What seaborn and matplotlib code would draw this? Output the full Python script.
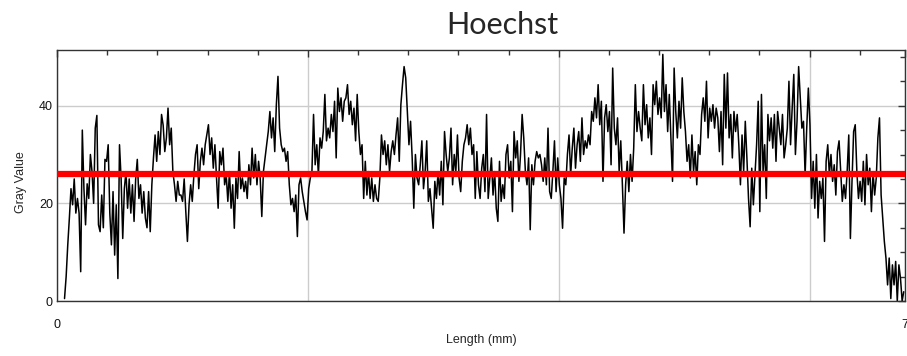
import numpy as np
import matplotlib
matplotlib.use("Agg")
import matplotlib.pyplot as plt
import seaborn as sns
from matplotlib.ticker import MultipleLocator

# gray values, left to right, in 7 chunks
seg1 = [0.5, 5, 11.5, 17, 23, 19.7, 25, 18, 21, 18, 6, 35, 23, 15.6, 24, 21, 30, 26.5, 20, 35.4,
        38, 15.6, 14.2, 21.7, 15, 29, 28.6, 32, 18, 11.5, 22.4, 9.4, 19.7, 4.6, 32, 25, 12.8, 23, 26.5, 19,
        25, 18, 23.8, 16.3, 25, 29, 21, 23.8, 18, 22.4, 17, 15, 22.4, 14.2, 23.8, 29.3, 34, 28.6, 34.7, 30,
        38.2, 36, 30.6, 33.4, 39.5, 32, 35.4, 26.5, 23.8, 20.4, 24.5, 21.7]
seg2 = [21.7, 20.4, 25, 18.3, 12.2, 19.7, 23.8, 20.4, 25.8, 30, 32, 23, 28.6, 31.3, 27.9, 32, 34, 36.1, 30, 33.4,
        27.2, 32, 25.2, 19, 30.6, 27.9, 31.3, 23.8, 25.8, 20.4, 26.5, 19, 23.8, 14.9, 25.2, 21, 30.6, 23, 25.2, 22.4,
        24.5, 21, 27.9, 23.8, 31.3, 25.2, 30, 23.8, 28.6, 25.2, 17.3, 26.5, 29.3, 32, 34.7, 38.8, 33.4, 37.5, 30.6, 40.2,
        46, 35.4, 32, 30.6, 31.3, 28.6, 30.6, 23.8, 19.7, 21, 18.3, 21.7, 13.2, 23.8, 25.2]
seg3 = [22.4, 20.4, 18.3, 16.6, 23, 25.2, 26.5, 38.2, 27.9, 32, 25.8, 33.4, 31.3, 34.7, 42.3, 32.8, 35.4, 33.4, 38.2, 34.7,
        40.9, 29.3, 43.6, 38.8, 41.6, 36.8, 40.9, 41.6, 44.3, 38.2, 40.9, 36.1, 39.5, 32.8, 42.3, 34.7, 30, 32, 21, 28.6,
        21.7, 26.5, 21, 25.2, 20.4, 23.8, 21, 20.4, 25.2, 34, 30, 32.8, 27.9, 32, 26.5, 30.6, 32.8, 30, 34, 37.5,
        28.6, 40.2, 44.3, 48, 45.7, 38.8, 32, 36.8, 29.3, 19, 30, 25.2, 23.8]
seg4 = [27.9, 32.8, 23, 26.5, 32.8, 20.4, 23, 19, 14.9, 24.5, 21, 26.5, 21.7, 28.6, 19.7, 34.7, 30, 26.5, 29.3, 35.4,
        23.8, 30, 26.5, 34, 25.2, 22.4, 28.6, 32, 33.4, 36.1, 32, 35.4, 30, 32, 21, 30.6, 23.8, 21, 27.2, 30,
        22.4, 38.2, 21, 25.2, 29.3, 21.7, 26.5, 19, 16.3, 28.6, 20.4, 23.8, 21, 30, 32, 25.2, 28.6, 18.3, 34.7, 29.3,
        32.8, 24.5, 30, 38.2, 33.4, 26.5, 23.8, 29.3, 14.6, 27.9, 23.8, 28.6, 30.6, 29.3]
seg5 = [30, 27.9, 24.5, 29.3, 23.8, 35.4, 22.4, 21, 26.5, 32.8, 22.4, 29.3, 23.8, 21, 14.9, 25.2, 23.8, 30, 34, 25.8,
        31.3, 35.4, 27.2, 32, 34.7, 28.6, 37.5, 30, 32.8, 31.3, 34, 32, 38.8, 36.8, 41.6, 37.5, 44.3, 36.1, 40.9, 24.5,
        37.5, 40.2, 34.7, 38.8, 27.9, 47.7, 35.4, 32, 37.5, 26.5, 32.8, 23.8, 13.9, 23.8, 28.6, 22.4, 30, 24.5, 31.3, 44.3,
        34.7, 38.8, 35.4, 32.8, 44.3, 36.1, 40.2, 33.4, 37.5, 30, 44.3, 40.2, 45, 38.2]
seg6 = [41.6, 37.5, 50.5, 38.8, 44.3, 34.7, 42.3, 33.4, 24.5, 47.7, 38.8, 33.4, 40.9, 35.4, 45.7, 38.8, 34.7, 28.6, 32, 25.2,
        34, 26.5, 30.6, 23.8, 32, 30, 38.2, 41.6, 36.8, 45, 33.4, 39.5, 36.8, 40.2, 35.4, 39.5, 37.5, 30.6, 38.8, 27.9,
        46.4, 35.4, 46.7, 33.4, 38.2, 29.3, 38.8, 34.7, 38.2, 32, 23.8, 34, 26.5, 36.8, 29.3, 21, 15.2, 27.2, 19.7, 25.8,
        32, 40.9, 18.3, 42.3, 26.5, 32, 21, 38.2, 32.8, 37.5, 31.3, 38.2, 28.6, 38.8]
seg7 = [35.4, 32, 38.2, 29.3, 32, 35.4, 45, 32, 39.5, 46.4, 30, 36.8, 48, 41.6, 35.4, 36.8, 25.8, 35.4, 43.6, 36.1,
        21, 28.6, 19, 30, 17, 24.5, 21, 25.2, 12.2, 28.6, 32, 25.8, 30, 24.5, 27.9, 21.7, 30.6, 32.8, 26.5, 20.4,
        23.8, 21, 26.5, 34, 12.8, 24.5, 34.7, 36.1, 26.5, 21, 24.5, 20.4, 28.6, 19.7, 30, 23.8, 27.2, 18.3, 26.5, 21.7,
        25.2, 33.4, 37.5, 21.7, 17, 12.2, 8.8, 3.3, 8.8, 0.5, 7.4, 3.3, 8.1, 0, 7.4, 4.6, 0, 1.9]

length_start = 0.06   # mm
length_end = 6.75     # mm
mean_gray = 26

gray = np.array(seg1 + seg2 + seg3 + seg4 + seg5 + seg6 + seg7)
length = np.linspace(length_start, length_end, len(gray))

sns.set_style("white")
plt.rcParams['font.family'] = ['Liberation Sans', 'DejaVu Sans']

fig = plt.figure(figsize=(9.07, 3.56), dpi=100)
ax = fig.add_axes([57 / 907, 55 / 356, 848 / 907, 251 / 356])

sns.lineplot(x=length, y=gray, ax=ax, color="black", linewidth=1.1,
             estimator=None, sort=False, zorder=2)
ax.axhline(mean_gray, color="#ff0000", linewidth=4.5, zorder=3)

ax.set_xlim(0, 6.76)
ax.set_ylim(0, 51.4)
ax.set_xticks([0, 2, 4, 6, 6.76])
ax.set_xticklabels(["0", "", "", "", "7"])
ax.xaxis.set_minor_locator(MultipleLocator(0.4))
ax.set_yticks([0, 20, 40])
ax.yaxis.set_minor_locator(MultipleLocator(5))
ax.grid(True, which="major", color="#cccccc", linewidth=1)

ax.tick_params(which="both", direction="in", top=True, right=True,
               color="#333333", width=1, labelsize=9, labelcolor="#111111")
ax.tick_params(which="major", length=5)
ax.tick_params(which="minor", length=3.5)
ax.tick_params(axis="x", pad=13)
ax.tick_params(axis="y", pad=3)
for s in ax.spines.values():
    s.set_color("#333333")
    s.set_linewidth(1)

ax.set_xlabel("Length (mm)", fontsize=9)
ax.xaxis.set_label_coords(0.5, -0.13)
ax.set_ylabel("Gray Value", fontsize=9)
ax.yaxis.set_label_coords(-0.035, 0.474)

fig.text(502 / 907, 1 - 34 / 356, "Hoechst", ha="center", va="baseline",
         fontsize=22, family=["Lato", "DejaVu Sans"])

fig.savefig("out.png", dpi=100)
